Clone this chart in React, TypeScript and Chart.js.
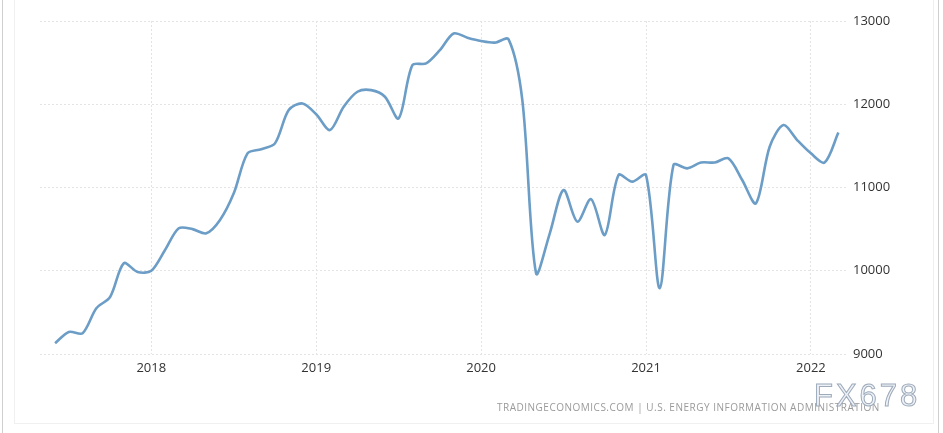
import React, { useEffect, useRef } from "react";
import { Chart, registerables } from "chart.js";

Chart.register(...registerables);

const months: string[] = [
  "2017-06", "2017-07", "2017-08", "2017-09", "2017-10", "2017-11", "2017-12",
  "2018-01", "2018-02", "2018-03", "2018-04", "2018-05", "2018-06", "2018-07", "2018-08", "2018-09", "2018-10", "2018-11", "2018-12",
  "2019-01", "2019-02", "2019-03", "2019-04", "2019-05", "2019-06", "2019-07", "2019-08", "2019-09", "2019-10", "2019-11", "2019-12",
  "2020-01", "2020-02", "2020-03", "2020-04", "2020-05", "2020-06", "2020-07", "2020-08", "2020-09", "2020-10", "2020-11", "2020-12",
  "2021-01", "2021-02", "2021-03", "2021-04", "2021-05", "2021-06", "2021-07", "2021-08", "2021-09", "2021-10", "2021-11", "2021-12",
  "2022-01", "2022-02", "2022-03",
];

const production: number[] = [
  9130, 9265, 9250, 9550, 9685, 10090, 9985,
  10000, 10250, 10510, 10500, 10450, 10610, 10930, 11410, 11460, 11530, 11930, 12010,
  11880, 11690, 11970, 12150, 12170, 12090, 11830, 12470, 12490, 12650, 12850, 12800,
  12760, 12740, 12780, 12050, 9970, 10450, 10970, 10590, 10860, 10430, 11150, 11070,
  11150, 9790, 11270, 11230, 11300, 11300, 11350, 11090, 10810, 11490, 11750, 11570,
  11410, 11300, 11660,
];

const yearTicks: string[] = ["2018", "2019", "2020", "2021", "2022"];
const yTicks: number[] = [9000, 10000, 11000, 12000, 13000];

const sourceText = "TRADINGECONOMICS.COM | U.S. ENERGY INFORMATION ADMINISTRATION";
const watermark = "FX678";

export default function App() {
  const canvasRef = useRef<HTMLCanvasElement | null>(null);

  useEffect(() => {
    document.body.style.margin = "0";
    const canvas = canvasRef.current;
    if (!canvas) return;

    const points = production.map((v, i) => ({ x: i, y: v }));
    const yearIdx = yearTicks.map((y) => months.indexOf(y + "-01"));

    const chart = new Chart(canvas, {
      type: "line",
      data: {
        datasets: [
          {
            data: points,
            borderColor: "#6b9dc6",
            borderWidth: 2.6,
            pointRadius: 0,
            tension: 0.3,
            fill: false,
          },
        ],
      },
      options: {
        animation: false,
        responsive: true,
        maintainAspectRatio: false,
        layout: { padding: { top: 21, left: 40, right: 0, bottom: 0 } },
        plugins: {
          legend: { display: false },
          tooltip: { enabled: false },
        },
        scales: {
          x: {
            type: "linear",
            min: -1.1,
            max: 57.7,
            afterBuildTicks: (scale: any) => {
              scale.ticks = yearIdx.map((v) => ({ value: v }));
            },
            afterFit: (scale: any) => {
              scale.height = 79;
            },
            ticks: {
              autoSkip: false,
              maxRotation: 0,
              padding: 6,
              color: "#333333",
              font: { family: "Open Sans", size: 13 },
              callback: (_v: any, i: number) => yearTicks[i],
            },
            grid: { color: "#e4e4e4", drawTicks: false, lineWidth: 1 },
            border: { display: false, dash: [2, 2] },
          },
          y: {
            position: "right",
            min: yTicks[0],
            max: yTicks[yTicks.length - 1],
            afterBuildTicks: (scale: any) => {
              scale.ticks = yTicks.map((v) => ({ value: v }));
            },
            afterFit: (scale: any) => {
              scale.width = 95;
            },
            ticks: {
              padding: 5,
              color: "#333333",
              font: { family: "Open Sans", size: 13 },
              callback: (v: any) => String(v),
            },
            grid: { color: "#e4e4e4", drawTicks: false, lineWidth: 1 },
            border: { display: false, dash: [2, 2] },
          },
        },
      },
    });

    return () => chart.destroy();
  }, []);

  return (
    <div
      style={{
        position: "relative",
        width: 943,
        height: 433,
        background: "#ffffff",
        overflow: "hidden",
        fontFamily: "Open Sans, sans-serif",
      }}
    >
      <div
        style={{
          position: "absolute",
          left: 2,
          top: 0,
          width: 937,
          height: 433,
          borderLeft: "1px solid #cfcfcf",
          borderRight: "1px solid #cfcfcf",
          boxSizing: "border-box",
        }}
      />
      <div
        style={{
          position: "absolute",
          left: 14,
          top: -2,
          width: 920,
          height: 426,
          border: "1px solid #f0f0f0",
          boxSizing: "border-box",
        }}
      />
      <canvas ref={canvasRef} style={{ position: "absolute", left: 0, top: 0 }} />
      <div
        style={{
          position: "absolute",
          left: 497,
          top: 400,
          fontSize: 10,
          letterSpacing: 0.5,
          color: "#9a9a9a",
          whiteSpace: "nowrap",
        }}
      >
        {sourceText}
      </div>
      <div
        style={{
          position: "absolute",
          left: 814,
          top: 378,
          fontSize: 31,
          letterSpacing: 3,
          fontFamily: "Liberation Sans, sans-serif",
          color: "rgba(235,239,244,0.85)",
          WebkitTextStroke: "1px #9eabbb",
          whiteSpace: "nowrap",
        }}
      >
        {watermark}
      </div>
    </div>
  );
}
